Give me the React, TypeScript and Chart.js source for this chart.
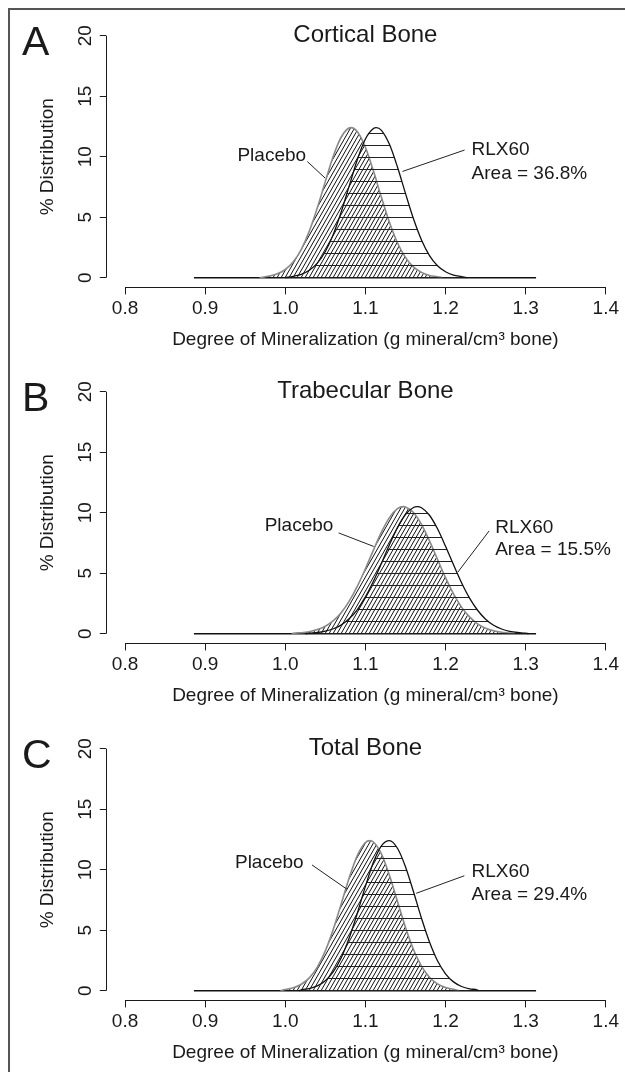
import React, { useEffect, useRef } from "react";
import { Chart, registerables } from "chart.js";

Chart.register(...registerables);

const FONT = "'Liberation Sans', Arial, Helvetica, sans-serif";
const INK = "#1a1a1a";

// Axis ticks
const X_TICKS = [0.8, 0.9, 1.0, 1.1, 1.2, 1.3, 1.4];
const Y_TICKS = [0, 5, 10, 15, 20];

// Common baseline drawn under the curves
const BASELINE_X = [0.886, 1.313];
const BASELINE_Y = [0, 0];

// Panel A — Cortical bone
const A_PLACEBO_X = [0.968, 0.98, 0.99, 1.0, 1.01, 1.02, 1.03, 1.04, 1.05, 1.06, 1.07, 1.082, 1.09, 1.1, 1.11, 1.12, 1.13, 1.14, 1.15, 1.16, 1.17, 1.18, 1.19, 1.196];
const A_PLACEBO_Y = [0, 0.14, 0.32, 0.68, 1.32, 2.35, 3.85, 5.78, 7.96, 10.06, 11.65, 12.4, 12.06, 10.78, 8.83, 6.64, 4.58, 2.89, 1.68, 0.89, 0.44, 0.19, 0.08, 0];
const A_RLX_X = [1.0, 1.01, 1.02, 1.03, 1.04, 1.05, 1.06, 1.07, 1.08, 1.09, 1.1, 1.11, 1.1135, 1.12, 1.13, 1.14, 1.15, 1.16, 1.17, 1.18, 1.19, 1.2, 1.21, 1.22, 1.227];
const A_RLX_Y = [0, 0.12, 0.28, 0.61, 1.2, 2.17, 3.6, 5.47, 7.63, 9.77, 11.46, 12.33, 12.4, 12.18, 11.02, 9.15, 6.97, 4.87, 3.12, 1.83, 0.99, 0.49, 0.22, 0.09, 0];

// Panel B — Trabecular bone
const B_PLACEBO_X = [1.008, 1.01, 1.02, 1.03, 1.04, 1.05, 1.06, 1.07, 1.08, 1.09, 1.1, 1.11, 1.12, 1.13, 1.14, 1.1475, 1.15, 1.16, 1.17, 1.18, 1.19, 1.2, 1.21, 1.22, 1.23, 1.24, 1.25, 1.26, 1.27, 1.28, 1.287];
const B_PLACEBO_Y = [0, 0.04, 0.08, 0.17, 0.34, 0.62, 1.08, 1.76, 2.71, 3.93, 5.37, 6.91, 8.39, 9.59, 10.33, 10.5, 10.48, 10.02, 9.03, 7.67, 6.14, 4.63, 3.29, 2.2, 1.39, 0.82, 0.46, 0.24, 0.12, 0.06, 0];
const B_RLX_X = [1.025, 1.03, 1.04, 1.05, 1.06, 1.07, 1.08, 1.09, 1.1, 1.11, 1.12, 1.13, 1.14, 1.15, 1.16, 1.1646, 1.17, 1.18, 1.19, 1.2, 1.21, 1.22, 1.23, 1.24, 1.25, 1.26, 1.27, 1.28, 1.29, 1.3, 1.304];
const B_RLX_Y = [0, 0.05, 0.1, 0.21, 0.41, 0.73, 1.25, 2.0, 3.04, 4.33, 5.81, 7.35, 8.77, 9.85, 10.43, 10.5, 10.41, 9.79, 8.67, 7.23, 5.69, 4.21, 2.94, 1.94, 1.2, 0.7, 0.39, 0.2, 0.1, 0.05, 0];

// Panel C — Total bone
const C_PLACEBO_X = [0.994, 1.0, 1.01, 1.02, 1.03, 1.04, 1.05, 1.06, 1.07, 1.08, 1.09, 1.1, 1.1054, 1.11, 1.12, 1.13, 1.14, 1.15, 1.16, 1.17, 1.18, 1.19, 1.2, 1.21, 1.217];
const C_PLACEBO_Y = [0, 0.1, 0.24, 0.53, 1.06, 1.95, 3.29, 5.09, 7.21, 9.38, 11.19, 12.25, 12.4, 12.29, 11.31, 9.54, 7.39, 5.25, 3.41, 2.04, 1.12, 0.56, 0.26, 0.11, 0];
const C_RLX_X = [1.017, 1.02, 1.03, 1.04, 1.05, 1.06, 1.07, 1.08, 1.09, 1.1, 1.11, 1.12, 1.13, 1.14, 1.15, 1.16, 1.17, 1.18, 1.19, 1.2, 1.21, 1.22, 1.23, 1.24, 1.241];
const C_RLX_Y = [0, 0.07, 0.18, 0.4, 0.83, 1.58, 2.75, 4.39, 6.42, 8.62, 10.61, 11.97, 12.4, 11.77, 10.25, 8.18, 5.99, 4.03, 2.48, 1.4, 0.73, 0.35, 0.15, 0.05, 0];

const SERIES_NAMES = ["Placebo", "RLX60"];
const PANEL_LETTERS = ["A", "B", "C"];
const PANEL_TITLES = ["Cortical Bone", "Trabecular Bone", "Total Bone"];
const AREA_LABELS = ["Area = 36.8%", "Area = 15.5%", "Area = 29.4%"];
const X_TITLE = "Degree of Mineralization (g mineral/cm\u00B3 bone)";
const Y_TITLE = "% Distribution";

// Annotation placement (data coordinates)
const ANNOTATIONS = [
  {
    placeboText: { x: 1.026, y: 10.05 },
    placeboLeader: [1.0275, 9.6, 1.0498, 8.23],
    rlxText: { x: 1.2325, y1: 10.55, y2: 8.61 },
    rlxLeader: [1.2238, 10.55, 1.1463, 8.78],
  },
  {
    placeboText: { x: 1.06, y: 8.95 },
    placeboLeader: [1.0666, 8.33, 1.1104, 7.21],
    rlxText: { x: 1.262, y1: 8.75, y2: 6.9 },
    rlxLeader: [1.2545, 8.5, 1.2155, 5.1],
  },
  {
    placeboText: { x: 1.0229, y: 10.55 },
    placeboLeader: [1.0334, 10.39, 1.0771, 8.38],
    rlxText: { x: 1.2325, y1: 9.85, y2: 7.95 },
    rlxLeader: [1.2235, 9.5, 1.1634, 8.05],
  },
];

const PANEL_DATA = [
  { px: A_PLACEBO_X, py: A_PLACEBO_Y, rx: A_RLX_X, ry: A_RLX_Y },
  { px: B_PLACEBO_X, py: B_PLACEBO_Y, rx: B_RLX_X, ry: B_RLX_Y },
  { px: C_PLACEBO_X, py: C_PLACEBO_Y, rx: C_RLX_X, ry: C_RLX_Y },
];

const CANVAS_W = 615;
const CANVAS_H = 356;
const PANEL_TOPS = [0, 356, 713];

const toPts = (xs: number[], ys: number[]) => xs.map((x, i) => ({ x, y: ys[i] }));

function makeDiagPattern(ctx: CanvasRenderingContext2D) {
  const t = document.createElement("canvas");
  t.width = 4;
  t.height = 7;
  const c = t.getContext("2d")!;
  c.strokeStyle = "#111";
  c.lineWidth = 1;
  c.beginPath();
  for (const dx of [-4, 0, 4]) {
    c.moveTo(dx, 7);
    c.lineTo(dx + 4, 0);
  }
  c.stroke();
  return ctx.createPattern(t, "repeat")!;
}

function makeHorizPattern(ctx: CanvasRenderingContext2D) {
  const t = document.createElement("canvas");
  t.width = 8;
  t.height = 12;
  const c = t.getContext("2d")!;
  c.fillStyle = "#222";
  c.fillRect(0, 0, 8, 1);
  return ctx.createPattern(t, "repeat")!;
}

function Panel({ index }: { index: number }) {
  const ref = useRef<HTMLCanvasElement>(null);

  useEffect(() => {
    const canvas = ref.current!;
    const ctx2d = canvas.getContext("2d")!;
    const diag = makeDiagPattern(ctx2d);
    const horiz = makeHorizPattern(ctx2d);
    const d = PANEL_DATA[index];
    const ann = ANNOTATIONS[index];

    const decor = {
      id: "decor" + index,
      beforeDatasetsDraw(chart: any) {
        const y0 = Math.round(chart.scales.y.getPixelForValue(0)) - 1;
        if ((horiz as any).setTransform) {
          horiz.setTransform(new DOMMatrix([1, 0, 0, 1, 0, y0]));
        }
      },
      afterDraw(chart: any) {
        const { ctx, chartArea } = chart;
        const xs = chart.scales.x;
        const ys = chart.scales.y;
        ctx.save();
        // R-style axis lines spanning only the tick range
        ctx.strokeStyle = INK;
        ctx.lineWidth = 1;
        ctx.beginPath();
        const yb = Math.round(chartArea.bottom) + 0.5;
        ctx.moveTo(xs.getPixelForValue(X_TICKS[0]), yb);
        ctx.lineTo(xs.getPixelForValue(X_TICKS[X_TICKS.length - 1]), yb);
        const xl = Math.round(chartArea.left) + 0.5;
        ctx.moveTo(xl, ys.getPixelForValue(Y_TICKS[0]));
        ctx.lineTo(xl, ys.getPixelForValue(Y_TICKS[Y_TICKS.length - 1]));
        ctx.stroke();

        // Panel title
        ctx.fillStyle = INK;
        ctx.font = `24px ${FONT}`;
        ctx.textAlign = "center";
        ctx.textBaseline = "middle";
        ctx.fillText(PANEL_TITLES[index], (chartArea.left + chartArea.right) / 2, chartArea.top + 9);

        // Panel letter
        ctx.font = `41px ${FONT}`;
        ctx.textAlign = "left";
        ctx.textBaseline = "alphabetic";
        ctx.fillText(PANEL_LETTERS[index], 12, 45);

        // Series labels
        ctx.font = `19px ${FONT}`;
        ctx.textBaseline = "middle";
        ctx.textAlign = "right";
        ctx.fillText(SERIES_NAMES[0], xs.getPixelForValue(ann.placeboText.x), ys.getPixelForValue(ann.placeboText.y));
        ctx.textAlign = "left";
        ctx.fillText(SERIES_NAMES[1], xs.getPixelForValue(ann.rlxText.x), ys.getPixelForValue(ann.rlxText.y1));
        ctx.fillText(AREA_LABELS[index], xs.getPixelForValue(ann.rlxText.x), ys.getPixelForValue(ann.rlxText.y2));

        // Leader lines
        ctx.strokeStyle = "#222";
        ctx.lineWidth = 1;
        ctx.beginPath();
        for (const L of [ann.placeboLeader, ann.rlxLeader]) {
          ctx.moveTo(xs.getPixelForValue(L[0]), ys.getPixelForValue(L[1]));
          ctx.lineTo(xs.getPixelForValue(L[2]), ys.getPixelForValue(L[3]));
        }
        ctx.stroke();
        ctx.restore();
      },
    };

    const chart = new Chart(canvas, {
      type: "line",
      data: {
        datasets: [
          {
            label: SERIES_NAMES[1],
            data: toPts(d.rx, d.ry),
            borderColor: "#111",
            borderWidth: 1.3,
            backgroundColor: horiz as any,
            fill: "origin",
            pointRadius: 0,
            cubicInterpolationMode: "monotone",
          },
          {
            label: SERIES_NAMES[0],
            data: toPts(d.px, d.py),
            borderColor: "#8a8a8a",
            borderWidth: 1.6,
            backgroundColor: diag as any,
            fill: "origin",
            pointRadius: 0,
            cubicInterpolationMode: "monotone",
          },
          {
            label: "baseline",
            data: toPts(BASELINE_X, BASELINE_Y),
            borderColor: "#111",
            borderWidth: 1.4,
            fill: false,
            pointRadius: 0,
          },
        ],
      },
      options: {
        animation: false,
        responsive: false,
        events: [],
        layout: { padding: { top: 16, left: 0, right: 0, bottom: 0 } },
        plugins: {
          legend: { display: false },
          tooltip: { enabled: false },
          title: { display: false },
        },
        scales: {
          x: {
            type: "linear",
            min: 0.776,
            max: 1.424,
            afterBuildTicks: (s: any) => {
              s.ticks = X_TICKS.map((v) => ({ value: v }));
            },
            afterFit: (s: any) => {
              s.height = 78.6;
            },
            border: { display: false },
            grid: { drawOnChartArea: false, drawTicks: true, tickLength: 7, color: INK, lineWidth: 1 },
            ticks: {
              color: INK,
              padding: 3,
              maxRotation: 0,
              autoSkip: false,
              font: { family: FONT, size: 19 },
              callback: (v: any) => Number(v).toFixed(1),
            },
            title: {
              display: true,
              text: X_TITLE,
              color: INK,
              font: { family: FONT, size: 19 },
              padding: { top: 0, bottom: 14.6 },
            },
          },
          y: {
            type: "linear",
            min: -0.8,
            max: 20.8,
            afterBuildTicks: (s: any) => {
              s.ticks = Y_TICKS.map((v) => ({ value: v }));
            },
            afterFit: (s: any) => {
              s.width = 95.8;
            },
            border: { display: false },
            grid: { drawOnChartArea: false, drawTicks: true, tickLength: 6, color: INK, lineWidth: 1 },
            ticks: {
              color: INK,
              padding: 3,
              minRotation: 90,
              maxRotation: 90,
              crossAlign: "center",
              autoSkip: false,
              font: { family: FONT, size: 19 },
              callback: (v: any) => String(v),
            },
            title: {
              display: true,
              text: Y_TITLE,
              color: INK,
              font: { family: FONT, size: 19 },
              padding: { top: 26.6, bottom: 0 },
            },
          },
        },
      } as any,
      plugins: [decor],
    });

    return () => chart.destroy();
  }, [index]);

  return (
    <canvas
      ref={ref}
      width={CANVAS_W}
      height={CANVAS_H}
      style={{ position: "absolute", left: 0, top: PANEL_TOPS[index], width: CANVAS_W, height: CANVAS_H }}
    />
  );
}

export default function App() {
  useEffect(() => {
    const html = document.documentElement;
    const body = document.body;
    const prev = [html.style.overflow, body.style.overflow, body.style.margin];
    html.style.overflow = "hidden";
    body.style.overflow = "hidden";
    body.style.margin = "8px 0 0 8px";
    return () => {
      html.style.overflow = prev[0];
      body.style.overflow = prev[1];
      body.style.margin = prev[2];
    };
  }, []);

  return (
    <div
      style={{
        position: "relative",
        width: CANVAS_W,
        height: 1062,
        borderTop: "2px solid #555",
        borderLeft: "2px solid #555",
        overflow: "hidden",
        background: "#fff",
      }}
    >
      {PANEL_LETTERS.map((_, i) => (
        <Panel key={i} index={i} />
      ))}
    </div>
  );
}
